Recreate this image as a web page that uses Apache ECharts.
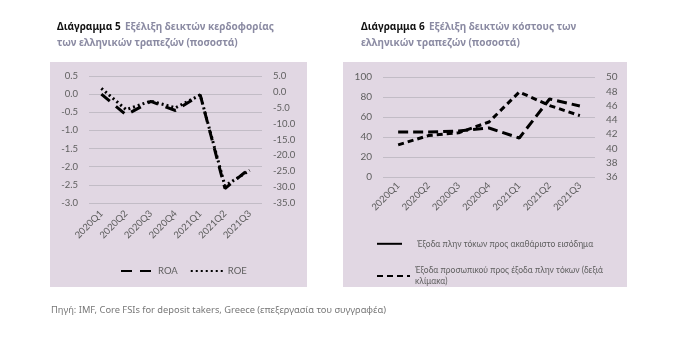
<!DOCTYPE html>
<html>
<head>
<meta charset="utf-8">
<script src="https://cdn.jsdelivr.net/npm/echarts@6/dist/echarts.min.js"></script>
<style>
html,body{margin:0;padding:0;background:#fff;}
#main{width:685px;height:351px;}
</style>
</head>
<body>
<div id="main"></div>
<script>
// quarters
var categories = ['2020Q1', '2020Q2', '2020Q3', '2020Q4', '2021Q1', '2021Q2', '2021Q3'];

// chart 5: profitability
var roa = [0.0, -0.57, -0.2, -0.45, -0.02, -2.6, -2.05];
var roe = [1.1, -5.6, -2.9, -5.0, -1.0, -29.6, -24.7];

// chart 6: cost ratios
var costIncome = [45, 45, 46, 49, 39, 78, 71];
var staffCost = [40.5, 41.8, 42.2, 43.7, 47.9, 46.0, 44.6];

var nameRoa = 'ROA', nameRoe = 'ROE';
var nameCost = 'Έξοδα πλην τόκων προς ακαθάριστο εισόδημα';
var nameStaff = 'Έξοδα προσωπικού προς έξοδα πλην τόκων (δεξιά κλίμακα)';

var panel = '#e1d7e3';
var labelCol = '#5f5f5f';
var font = 'Lato';

var myChart = echarts.init(document.getElementById('main'));

function titleText(num, a, b) {
    return '{b|Διάγραμμα ' + num + '} {n|' + a + '}\n{n|' + b + '}';
}
var titleRich = {
    b: {fontFamily: 'Noto Sans', fontWeight: 'bold', fontSize: 10, color: '#111', lineHeight: 15},
    n: {fontFamily: 'Noto Sans', fontSize: 10, color: '#8b8ba3', lineHeight: 15}
};

var option = {
    animation: false,
    textStyle: {fontFamily: font},
    title: [{
        left: 52, top: 13,
        text: titleText(5, 'Εξέλιξη δεικτών κερδοφορίας', 'των ελληνικών τραπεζών (ποσοστά)'),
        textStyle: {rich: titleRich}
    }, {
        left: 356, top: 13,
        text: titleText(6, 'Εξέλιξη δεικτών κόστους των', 'ελληνικών τραπεζών (ποσοστά)'),
        textStyle: {rich: titleRich}
    }, {
        left: 46, top: 301,
        text: 'Πηγή: IMF, Core FSIs for deposit takers, Greece (επεξεργασία του συγγραφέα)',
        textStyle: {fontFamily: 'Noto Sans', fontSize: 9.3, fontWeight: 'normal', color: '#777'}
    }],
    graphic: [
        {type: 'rect', z: -10, shape: {x: 50, y: 62, width: 257, height: 225}, style: {fill: panel}},
        {type: 'rect', z: -10, shape: {x: 343, y: 62, width: 284, height: 225}, style: {fill: panel}}
    ],
    grid: [
        {left: 89, right: 423, top: 76, bottom: 148},
        {left: 383, right: 90, top: 77, bottom: 174}
    ],
    legend: [{
        left: 115, top: 261,
        itemWidth: 32, itemHeight: 12, itemGap: 12,
        itemStyle: {opacity: 0},
        textStyle: {fontFamily: font, fontSize: 9.5, color: labelCol},
        data: [nameRoa, nameRoe]
    }, {
        left: 371, top: 234,
        itemWidth: 25, itemHeight: 12,
        itemStyle: {opacity: 0},
        textStyle: {fontFamily: font, fontSize: 8.5, color: labelCol, padding: [0, 0, 0, 10]},
        data: [{name: nameCost, lineStyle: {type: 'solid'}}]
    }, {
        left: 371, top: 260,
        itemWidth: 33, itemHeight: 12,
        itemStyle: {opacity: 0},
        formatter: function (n) { return 'Έξοδα προσωπικού προς έξοδα πλην τόκων (δεξιά\nκλίμακα)'; },
        textStyle: {fontFamily: font, fontSize: 8.5, color: labelCol, lineHeight: 11},
        data: [nameStaff]
    }],
    xAxis: [{
        type: 'category', gridIndex: 0, data: categories,
        axisLine: {show: false}, axisTick: {show: false},
        axisLabel: {rotate: 45, margin: 9, fontSize: 9.5, color: labelCol}
    }, {
        type: 'category', gridIndex: 1, data: categories,
        axisLine: {show: false}, axisTick: {show: false},
        axisLabel: {rotate: 45, margin: 7, fontSize: 9.5, color: labelCol}
    }],
    yAxis: [{
        type: 'value', gridIndex: 0, min: -3, max: 0.5, interval: 0.5,
        axisLabel: {fontSize: 9.5, color: labelCol, margin: 11, formatter: function (v) { return v.toFixed(1); }},
        splitLine: {lineStyle: {color: '#c2bcc6', width: 1}}
    }, {
        type: 'value', gridIndex: 0, min: -35, max: 5, interval: 5, position: 'right',
        axisLabel: {fontSize: 9.5, color: labelCol, margin: 11, formatter: function (v) { return v.toFixed(1); }},
        splitLine: {show: false}
    }, {
        type: 'value', gridIndex: 1, min: 0, max: 100, interval: 20,
        axisLabel: {fontSize: 10, color: labelCol, margin: 11},
        splitLine: {lineStyle: {color: '#c2bcc6', width: 1}}
    }, {
        type: 'value', gridIndex: 1, min: 36, max: 50, interval: 2, position: 'right',
        axisLabel: {fontSize: 10, color: labelCol, margin: 11},
        splitLine: {show: false}
    }],
    series: [{
        name: nameRoa, type: 'line', xAxisIndex: 0, yAxisIndex: 0,
        data: roa, symbol: 'none', itemStyle: {color: '#000'},
        lineStyle: {color: '#000', width: 3, type: [11, 8]}
    }, {
        name: nameRoe, type: 'line', xAxisIndex: 0, yAxisIndex: 1,
        data: roe, symbol: 'none', itemStyle: {color: '#000'},
        lineStyle: {color: '#000', width: 3, type: [2, 3]}
    }, {
        name: nameCost, type: 'line', xAxisIndex: 1, yAxisIndex: 2,
        data: costIncome, symbol: 'none', itemStyle: {color: '#000'},
        lineStyle: {color: '#000', width: 3, type: [10, 5]}
    }, {
        name: nameStaff, type: 'line', xAxisIndex: 1, yAxisIndex: 3,
        data: staffCost, symbol: 'none', itemStyle: {color: '#000'},
        lineStyle: {color: '#000', width: 3, type: [6, 4]}
    }]
};

myChart.setOption(option);
</script>
</body>
</html>
